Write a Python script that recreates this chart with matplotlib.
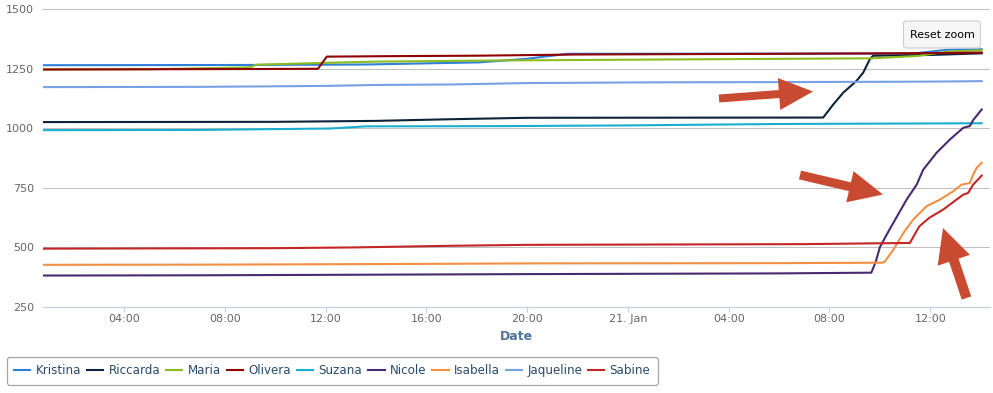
import numpy as np
import pandas as pd
import matplotlib
matplotlib.use("Agg")
import matplotlib.pyplot as plt
import matplotlib.dates as mdates
from matplotlib.patches import FancyArrow, FancyBboxPatch
from matplotlib.lines import Line2D

plt.rcParams['font.family'] = ['DejaVu Sans']

# ---- data (hours since 20 Jan 00:00, values) ----
names = ["Kristina", "Riccarda", "Maria", "Olivera", "Suzana", "Nicole",
         "Isabella", "Jaqueline", "Sabine"]
colors = ["#2f7ed8", "#0d233a", "#8bbc21", "#910000", "#1aadce", "#492970",
          "#f28f43", "#77a1e5", "#c42525"]

kristina_h = [0.8, 9.0, 13.6, 18.1, 20.0, 21.6, 35.3, 36.7, 38.04]
kristina_v = [1265, 1266, 1268, 1277, 1292, 1313, 1314, 1330, 1332]

riccarda_h = [0.8, 10.0, 14.0, 17.0, 20.0, 31.75, 32.15, 32.55, 33.07, 33.34, 33.6, 33.73, 36.0, 38.04]
riccarda_v = [1026, 1027, 1031, 1038, 1044, 1045, 1100, 1150, 1199, 1234, 1290, 1305, 1308, 1315]

maria_h = [0.8, 5.0, 9.0, 9.25, 12.0, 14.0, 19.0, 27.0, 33.7, 35.5, 36.7, 38.04]
maria_v = [1247, 1248, 1256, 1267, 1275, 1280, 1285, 1290, 1294, 1304, 1322, 1328]

olivera_h = [0.8, 9.0, 11.7, 12.05, 14.5, 18.0, 22.0, 30.0, 36.5, 38.04]
olivera_v = [1247, 1249, 1250, 1301, 1303, 1305, 1310, 1313, 1316, 1318]

suzana_h = [0.8, 7.0, 12.2, 13.6, 19.0, 24.0, 30.0, 38.04]
suzana_v = [992, 993, 999, 1008, 1009, 1012, 1018, 1021]

nicole_h = [0.8, 7.0, 15.0, 20.0, 30.0, 33.66, 33.84, 34.0, 34.28, 34.79, 35.06, 35.46,
            35.72, 36.25, 36.78, 37.31, 37.57, 37.70, 38.04]
nicole_v = [381, 382, 385, 387, 390, 393, 440, 500, 555, 650, 700, 763,
            826, 897, 953, 1002, 1009, 1034, 1079]

isabella_h = [0.8, 8.0, 16.0, 20.0, 30.0, 34.1, 34.2, 34.53, 34.93, 35.32, 35.85, 36.38,
              36.91, 37.24, 37.57, 37.70, 37.84, 38.04]
isabella_v = [426, 427, 430, 432, 433, 435, 440, 489, 559, 616, 672, 700,
              735, 763, 770, 805, 833, 855]

jaqueline_h = [0.8, 7.0, 12.0, 14.0, 17.0, 20.0, 25.0, 30.0, 36.0, 38.04]
jaqueline_v = [1173, 1174, 1178, 1182, 1184, 1190, 1193, 1194, 1196, 1198]

sabine_h = [0.8, 10.0, 13.0, 17.0, 20.0, 31.0, 35.19, 35.56, 35.95, 36.51, 37.04, 37.31,
            37.5, 37.70, 38.04]
sabine_v = [494, 496, 499, 506, 510, 513, 518, 587, 623, 658, 700, 721,
            728, 763, 801]

series_h = [kristina_h, riccarda_h, maria_h, olivera_h, suzana_h, nicole_h,
            isabella_h, jaqueline_h, sabine_h]
series_v = [kristina_v, riccarda_v, maria_v, olivera_v, suzana_v, nicole_v,
            isabella_v, jaqueline_v, sabine_v]

y_ticks = [250, 500, 750, 1000, 1250, 1500]
base = pd.Timestamp("2014-01-20 00:00")
x_min_h, x_max_h = 0.8, 38.37

def to_time(h):
    return base + pd.to_timedelta(np.asarray(h, dtype=float), unit="h")

# ---- figure ----
W, H = 993, 393
fig = plt.figure(figsize=(W / 100, H / 100), dpi=100)
left, right, top, bottom = 43.3, 990.0, 9.3, 306.7
ax = fig.add_axes([left / W, 1 - bottom / H, (right - left) / W, (bottom - top) / H])

for h, v, c, n in zip(series_h, series_v, colors, names):
    ax.plot(to_time(h), v, color=c, lw=1.5, label=n, solid_joinstyle="round")

ax.set_ylim(250, 1500)
ax.set_yticks(y_ticks)
ax.set_xlim(to_time([x_min_h])[0], to_time([x_max_h])[0])

ax.xaxis.set_major_locator(mdates.HourLocator(byhour=range(0, 24, 4)))
def fmt(x, pos):
    d = mdates.num2date(x)
    if d.hour == 0:
        return f"{d.day}. Jan"
    return d.strftime("%H:%M")
ax.xaxis.set_major_formatter(plt.FuncFormatter(fmt))

ax.grid(axis="y", color="#C0C0C0", lw=0.75)
ax.set_axisbelow(True)
for s in ["left", "right", "top"]:
    ax.spines[s].set_visible(False)
ax.spines["bottom"].set_color("#C0D0E0")
ax.spines["bottom"].set_linewidth(0.9)
ax.tick_params(axis="y", length=0, pad=6.5, labelsize=8, labelcolor="#666666")
ax.tick_params(axis="x", length=3.6, width=0.75, color="#C0D0E0", pad=1.5,
               labelsize=8, labelcolor="#666666")

fig.text((left + right) / 2 / W, 1 - 336 / H, "Date", ha="center", va="center",
         fontsize=9, fontweight="bold", color="#4d759e")

# legend
handles = [Line2D([], [], color=c, lw=1.5) for c in colors]
leg = fig.legend(handles, names, loc="lower left",
                 bbox_to_anchor=(7 / W, 1 - 384.5 / H), ncol=9, fontsize=8.6,
                 frameon=True, fancybox=True, edgecolor="#909090",
                 handlelength=1.35, handletextpad=0.45, columnspacing=0.5,
                 borderpad=0.6, borderaxespad=0)
leg.get_frame().set_linewidth(0.9)
for t in leg.get_texts():
    t.set_color("#274b6d")

# overlay in pixel coordinates for annotations
ov = fig.add_axes([0, 0, 1, 1], facecolor="none")
ov.set_xlim(0, W)
ov.set_ylim(H, 0)
ov.axis("off")

btn = FancyBboxPatch((903.5, 21), 77, 27, boxstyle="round,pad=0,rounding_size=3",
                     facecolor="#f6f6f6", edgecolor="#cccccc", lw=0.8)
ov.add_patch(btn)
ov.text(942, 34.5, "Reset zoom", ha="center", va="center", fontsize=8, color="#000000")

arrow_color = "#c84b31"
arrows = [((719, 98.5), (813, 91.5), 8, 32, 34),
          ((800, 175), (883, 194.5), 9, 32, 34),
          ((966.5, 298), (943, 228), 10, 34, 34)]
for (x0, y0), (x1, y1), w, hw, hl in arrows:
    ov.add_patch(FancyArrow(x0, y0, x1 - x0, y1 - y0, width=w, head_width=hw,
                            head_length=hl, length_includes_head=True,
                            color=arrow_color, lw=0))

fig.savefig("out.png", dpi=100)
